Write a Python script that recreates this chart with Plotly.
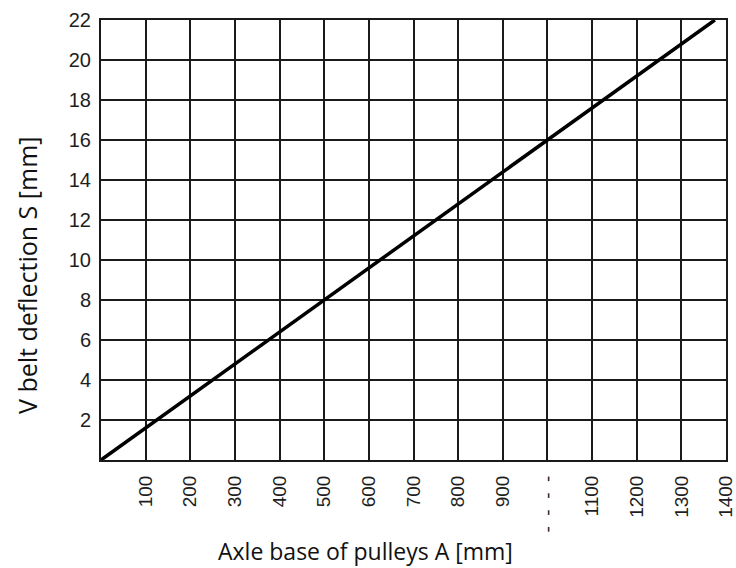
import plotly.graph_objects as go

# Deflection of the V belt versus axle base of the pulleys
axle_base = [0, 1375]        # A [mm]
deflection = [0, 22]         # S [mm]

x_tick_vals = [100, 200, 300, 400, 500, 600, 700, 800, 900, 1000, 1100, 1200, 1300, 1400]
x_tick_text = ["100", "200", "300", "400", "500", "600", "700", "800", "900",
               "-\u00a0\u00a0-\u00a0\u00a0-\u00a0\u00a0-",
               "1100", "1200", "1300", "1400"]
y_tick_vals = [2, 4, 6, 8, 10, 12, 14, 16, 18, 20, 22]
y_tick_text = [str(v) for v in y_tick_vals]

grid_color = "#1a1a1a"
x_tick_font = dict(family="Liberation Sans", size=19, color="#1e1e1e")
y_tick_font = dict(family="Liberation Sans", size=20, color="#1e1e1e")

fig = go.Figure()
fig.add_trace(go.Scatter(
    x=axle_base, y=deflection, mode="lines",
    line=dict(color="#000000", width=3.5),
    hoverinfo="skip", showlegend=False,
))

fig.update_xaxes(
    range=[0, 1400], tickvals=x_tick_vals, ticktext=x_tick_text,
    tickangle=-90, tickfont=x_tick_font, ticks="", ticklabelstandoff=6,
    ticklabeloverflow="allow",
    showgrid=True, gridcolor=grid_color, gridwidth=1.5,
    showline=True, linecolor=grid_color, linewidth=2, mirror=True,
    zeroline=False, fixedrange=True,
)
fig.update_yaxes(
    range=[0, 22], tickvals=y_tick_vals, ticktext=y_tick_text,
    tickfont=y_tick_font, ticks="", ticklabelstandoff=4,
    ticklabeloverflow="allow",
    showgrid=True, gridcolor=grid_color, gridwidth=1.5,
    showline=True, linecolor=grid_color, linewidth=2, mirror=True,
    zeroline=False, fixedrange=True,
)

fig.add_annotation(
    text="Axle base of pulleys A [mm]", xref="paper", yref="paper",
    x=(365 - 101) / 625, y=-(551 - 460) / 440, xanchor="center", yanchor="middle",
    showarrow=False, font=dict(family="Open Sans", size=23, color="#111111"),
)
fig.add_annotation(
    text="V belt deflection S [mm]", xref="paper", yref="paper",
    x=-(101 - 27) / 625, y=(460 - 276) / 440, xanchor="center", yanchor="middle",
    textangle=-90, showarrow=False, font=dict(family="Open Sans", size=25, color="#111111"),
)

fig.update_layout(
    width=736, height=568,
    margin=dict(l=101, r=10, t=20, b=108, autoexpand=False),
    paper_bgcolor="white", plot_bgcolor="white",
)

fig.write_html("out.html", config={"displayModeBar": False})
